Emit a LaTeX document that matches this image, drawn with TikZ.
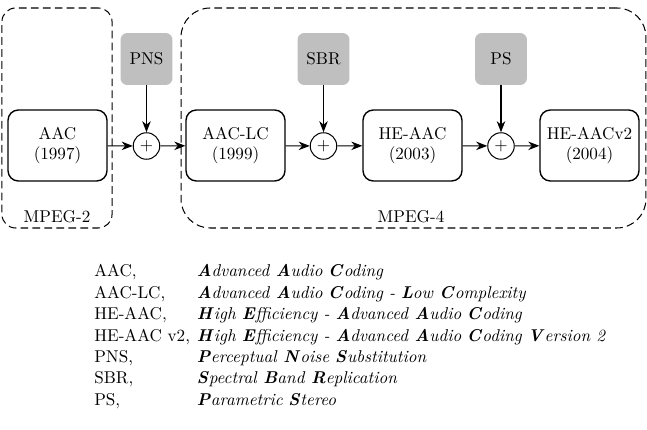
\documentclass[tikz,border=0pt]{standalone}
\usetikzlibrary{arrows.meta}
\begin{document}
\begin{tikzpicture}[x=0.585pt,y=-0.585pt,
  blockbox/.style={draw,thick,rounded corners=6pt,minimum width=57.9pt,minimum height=41.5pt,align=center,inner sep=1pt},
  toolbox/.style={fill=black!25,rounded corners=4pt,minimum width=30.4pt,minimum height=30.4pt,inner sep=0pt},
  sumnode/.style={draw,semithick,circle,minimum size=15.5pt,inner sep=0pt},
  groupbox/.style={draw,semithick,dash pattern=on 4.5pt off 2.5pt},
  conn/.style={semithick,-{Stealth[length=6.5pt,width=5pt]}}]
\useasboundingbox (0,0) rectangle (647,430);
% group boxes
\node[groupbox,rounded corners=8pt,minimum width=64.4pt,minimum height=128.7pt] (mpeg2) at (57,118) {};
\node[groupbox,rounded corners=17pt,minimum width=272pt,minimum height=128.7pt] (mpeg4) at (413.5,118) {};
\node (mpeg2lbl) at (57,217) {MPEG-2};
\node (mpeg4lbl) at (411,217) {MPEG-4};
% blocks
\node[blockbox] (aac) at (57.5,145.5) {AAC\\(1997)};
\node[blockbox] (aaclc) at (235.5,145.5) {AAC-LC\\(1999)};
\node[blockbox] (heaac) at (412.5,145.5) {HE-AAC\\(2003)};
\node[blockbox] (heaacv) at (589.5,145.5) {HE-AACv2\\(2004)};
% tools
\node[toolbox] (pns) at (146.5,59) {PNS};
\node[toolbox] (sbr) at (323.5,59) {SBR};
\node[toolbox] (ps) at (501,59) {PS};
% sums
\node[sumnode] (p1) at (146.5,146) {$+$};
\node[sumnode] (p2) at (323.5,146) {$+$};
\node[sumnode] (p3) at (501,146) {$+$};
% connectors
\draw[conn] (aac) -- (p1);
\draw[conn] (p1) -- (aaclc);
\draw[conn] (aaclc) -- (p2);
\draw[conn] (p2) -- (heaac);
\draw[conn] (heaac) -- (p3);
\draw[conn] (p3) -- (heaacv);
\draw[conn] (pns) -- (p1);
\draw[conn] (sbr) -- (p2);
\draw[conn] (ps) -- (p3);
% legend
\newcommand{\bi}[1]{\textbf{\textit{#1}}}
\renewcommand{\arraystretch}{1.046}
\node[anchor=base west,inner sep=0pt] (legend) at (94,276.7) {%
\begin{tabular}[t]{@{}l@{\hspace{4pt}}l@{}}
AAC, & \bi{A}\textit{dvanced} \bi{A}\textit{udio} \bi{C}\textit{oding}\\
AAC-LC, & \bi{A}\textit{dvanced} \bi{A}\textit{udio} \bi{C}\textit{oding} \textit{-} \bi{L}\textit{ow} \bi{C}\textit{omplexity}\\
HE-AAC, & \bi{H}\textit{igh} \bi{E}\textit{fficiency} \textit{-} \bi{A}\textit{dvanced} \bi{A}\textit{udio} \bi{C}\textit{oding}\\
HE-AAC v2, & \bi{H}\textit{igh} \bi{E}\textit{fficiency} \textit{-} \bi{A}\textit{dvanced} \bi{A}\textit{udio} \bi{C}\textit{oding} \bi{V}\textit{ersion 2}\\
PNS, & \bi{P}\textit{erceptual} \bi{N}\textit{oise} \bi{S}\textit{ubstitution}\\
SBR, & \bi{S}\textit{pectral} \bi{B}\textit{and} \bi{R}\textit{eplication}\\
PS, & \bi{P}\textit{arametric} \bi{S}\textit{tereo}
\end{tabular}};
\end{tikzpicture}
\end{document}
